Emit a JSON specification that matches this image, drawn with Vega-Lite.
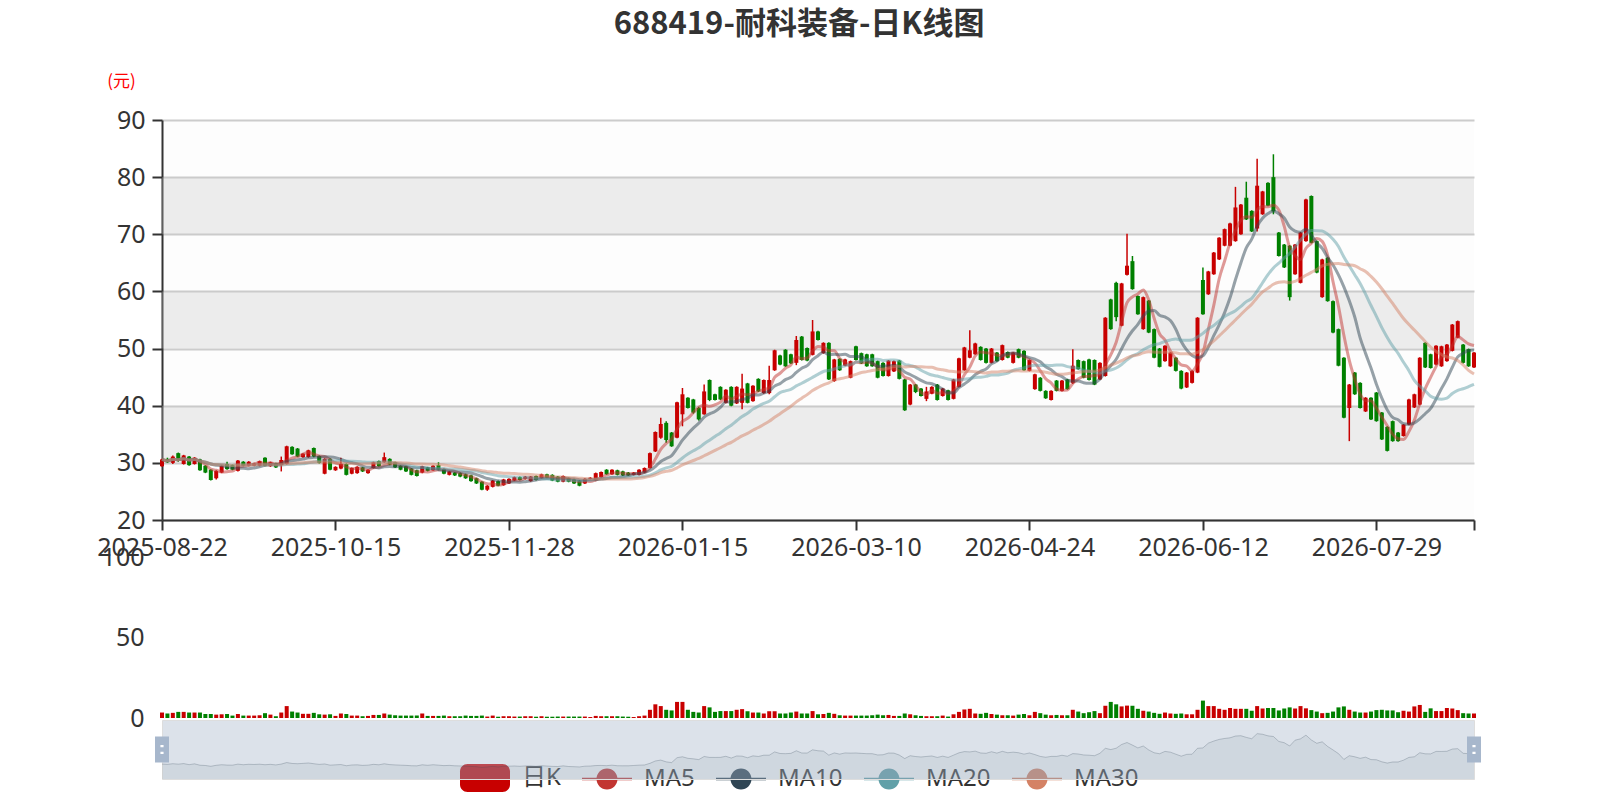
{
  "$schema": "https://vega.github.io/schema/vega-lite/v6.json",
  "background": "white",
  "padding": {"left": 96, "top": 9, "right": 10, "bottom": 5},
  "autosize": "pad",
  "title": {
    "text": "688419-耐科装备-日K线图",
    "font": "Noto Sans CJK SC",
    "fontSize": 31,
    "fontWeight": "bold",
    "color": "#333333",
    "anchor": "middle",
    "dx": 10,
    "offset": 31
  },
  "data": {
    "values": [
      {"date": "2025-08-22", "open": 29.4, "close": 30.6, "high": 30.7, "low": 29.3, "vol": 3.4},
      {"date": "2025-08-25", "open": 30.7, "close": 30.1, "high": 30.9, "low": 30.0, "vol": 2.8},
      {"date": "2025-08-26", "open": 30.0, "close": 31.1, "high": 31.3, "low": 29.8, "vol": 3.2},
      {"date": "2025-08-27", "open": 31.7, "close": 30.4, "high": 31.8, "low": 30.2, "vol": 3.8},
      {"date": "2025-08-28", "open": 29.8, "close": 31.3, "high": 31.4, "low": 29.7, "vol": 3.8},
      {"date": "2025-08-29", "open": 31.1, "close": 29.6, "high": 31.2, "low": 29.5, "vol": 3.4},
      {"date": "2025-09-01", "open": 29.8, "close": 30.9, "high": 31.0, "low": 29.7, "vol": 3.4},
      {"date": "2025-09-02", "open": 30.6, "close": 28.7, "high": 30.7, "low": 28.6, "vol": 3.4},
      {"date": "2025-09-03", "open": 29.5, "close": 28.3, "high": 29.6, "low": 28.2, "vol": 2.5},
      {"date": "2025-09-04", "open": 28.8, "close": 27.0, "high": 28.9, "low": 26.9, "vol": 2.5},
      {"date": "2025-09-05", "open": 27.3, "close": 28.6, "high": 28.7, "low": 27.1, "vol": 2.1},
      {"date": "2025-09-08", "open": 28.3, "close": 29.5, "high": 29.6, "low": 28.2, "vol": 2.3},
      {"date": "2025-09-09", "open": 29.8, "close": 28.9, "high": 30.2, "low": 28.8, "vol": 2.5},
      {"date": "2025-09-10", "open": 29.6, "close": 28.8, "high": 29.7, "low": 28.7, "vol": 1.5},
      {"date": "2025-09-11", "open": 28.6, "close": 30.4, "high": 30.5, "low": 28.5, "vol": 2.5},
      {"date": "2025-09-12", "open": 30.2, "close": 29.5, "high": 30.3, "low": 29.4, "vol": 1.5},
      {"date": "2025-09-15", "open": 29.5, "close": 30.2, "high": 30.3, "low": 29.4, "vol": 1.5},
      {"date": "2025-09-16", "open": 29.5, "close": 29.9, "high": 30.0, "low": 29.4, "vol": 1.5},
      {"date": "2025-09-17", "open": 29.5, "close": 30.3, "high": 30.4, "low": 29.4, "vol": 1.7},
      {"date": "2025-09-18", "open": 30.9, "close": 29.5, "high": 31.0, "low": 29.4, "vol": 3.0},
      {"date": "2025-09-19", "open": 29.4, "close": 30.1, "high": 30.2, "low": 29.3, "vol": 2.1},
      {"date": "2025-09-22", "open": 29.9, "close": 29.2, "high": 30.0, "low": 29.1, "vol": 1.1},
      {"date": "2025-09-23", "open": 29.6, "close": 30.5, "high": 31.1, "low": 28.5, "vol": 3.4},
      {"date": "2025-09-24", "open": 29.8, "close": 32.9, "high": 33.0, "low": 29.7, "vol": 7.4},
      {"date": "2025-09-25", "open": 32.8, "close": 31.5, "high": 32.9, "low": 31.4, "vol": 4.0},
      {"date": "2025-09-26", "open": 32.5, "close": 31.1, "high": 32.6, "low": 31.0, "vol": 3.4},
      {"date": "2025-09-29", "open": 31.0, "close": 31.6, "high": 31.7, "low": 30.9, "vol": 2.6},
      {"date": "2025-09-30", "open": 31.0, "close": 32.2, "high": 32.3, "low": 30.9, "vol": 2.6},
      {"date": "2025-10-09", "open": 32.6, "close": 31.1, "high": 32.7, "low": 31.0, "vol": 3.2},
      {"date": "2025-10-10", "open": 31.2, "close": 30.0, "high": 31.3, "low": 29.9, "vol": 2.3},
      {"date": "2025-10-13", "open": 28.1, "close": 30.7, "high": 30.8, "low": 28.0, "vol": 2.1},
      {"date": "2025-10-14", "open": 30.7, "close": 28.8, "high": 30.8, "low": 28.7, "vol": 2.3},
      {"date": "2025-10-15", "open": 28.7, "close": 29.3, "high": 29.4, "low": 28.6, "vol": 1.3},
      {"date": "2025-10-16", "open": 29.0, "close": 29.8, "high": 30.9, "low": 28.9, "vol": 2.8},
      {"date": "2025-10-17", "open": 29.8, "close": 27.9, "high": 29.9, "low": 27.8, "vol": 2.5},
      {"date": "2025-10-20", "open": 28.1, "close": 29.1, "high": 29.2, "low": 28.0, "vol": 1.5},
      {"date": "2025-10-21", "open": 28.2, "close": 29.3, "high": 29.4, "low": 28.1, "vol": 1.5},
      {"date": "2025-10-22", "open": 29.2, "close": 28.5, "high": 29.3, "low": 28.4, "vol": 1.1},
      {"date": "2025-10-23", "open": 28.2, "close": 28.8, "high": 28.9, "low": 28.1, "vol": 1.3},
      {"date": "2025-10-24", "open": 29.1, "close": 30.1, "high": 30.2, "low": 29.0, "vol": 1.9},
      {"date": "2025-10-27", "open": 30.3, "close": 29.4, "high": 30.4, "low": 29.3, "vol": 1.9},
      {"date": "2025-10-28", "open": 30.1, "close": 31.0, "high": 31.8, "low": 30.0, "vol": 2.8},
      {"date": "2025-10-29", "open": 30.7, "close": 29.7, "high": 30.8, "low": 29.6, "vol": 2.1},
      {"date": "2025-10-30", "open": 30.1, "close": 29.2, "high": 30.2, "low": 29.1, "vol": 1.7},
      {"date": "2025-10-31", "open": 29.5, "close": 28.8, "high": 29.6, "low": 28.7, "vol": 1.5},
      {"date": "2025-11-03", "open": 29.4, "close": 28.5, "high": 29.5, "low": 28.4, "vol": 1.5},
      {"date": "2025-11-04", "open": 29.0, "close": 27.9, "high": 29.1, "low": 27.8, "vol": 1.5},
      {"date": "2025-11-05", "open": 28.7, "close": 27.7, "high": 28.8, "low": 27.6, "vol": 1.5},
      {"date": "2025-11-06", "open": 28.3, "close": 29.4, "high": 29.5, "low": 28.2, "vol": 2.8},
      {"date": "2025-11-07", "open": 29.2, "close": 28.6, "high": 29.3, "low": 28.5, "vol": 1.3},
      {"date": "2025-11-10", "open": 28.7, "close": 29.5, "high": 29.6, "low": 28.6, "vol": 1.3},
      {"date": "2025-11-11", "open": 29.6, "close": 28.8, "high": 30.1, "low": 28.7, "vol": 1.3},
      {"date": "2025-11-12", "open": 28.9, "close": 28.1, "high": 29.0, "low": 28.0, "vol": 1.5},
      {"date": "2025-11-13", "open": 27.9, "close": 28.5, "high": 28.6, "low": 27.8, "vol": 1.1},
      {"date": "2025-11-14", "open": 28.3, "close": 27.8, "high": 28.4, "low": 27.7, "vol": 1.1},
      {"date": "2025-11-17", "open": 28.2, "close": 27.6, "high": 28.3, "low": 27.5, "vol": 1.1},
      {"date": "2025-11-18", "open": 28.0, "close": 27.3, "high": 28.1, "low": 27.2, "vol": 1.5},
      {"date": "2025-11-19", "open": 27.8, "close": 26.8, "high": 27.9, "low": 26.7, "vol": 1.3},
      {"date": "2025-11-20", "open": 27.3, "close": 26.4, "high": 27.4, "low": 26.3, "vol": 1.3},
      {"date": "2025-11-21", "open": 26.7, "close": 25.3, "high": 26.8, "low": 25.2, "vol": 1.5},
      {"date": "2025-11-24", "open": 25.3, "close": 26.0, "high": 26.1, "low": 25.1, "vol": 0.9},
      {"date": "2025-11-25", "open": 25.8, "close": 26.9, "high": 27.0, "low": 25.7, "vol": 1.5},
      {"date": "2025-11-26", "open": 26.8, "close": 26.0, "high": 26.9, "low": 25.9, "vol": 0.8},
      {"date": "2025-11-27", "open": 26.1, "close": 27.1, "high": 27.2, "low": 26.0, "vol": 1.1},
      {"date": "2025-11-28", "open": 26.4, "close": 27.2, "high": 27.3, "low": 26.3, "vol": 1.1},
      {"date": "2025-12-01", "open": 26.9, "close": 27.5, "high": 27.6, "low": 26.8, "vol": 0.9},
      {"date": "2025-12-02", "open": 27.5, "close": 27.0, "high": 27.6, "low": 26.9, "vol": 0.9},
      {"date": "2025-12-03", "open": 27.2, "close": 27.6, "high": 27.7, "low": 27.1, "vol": 1.1},
      {"date": "2025-12-04", "open": 26.8, "close": 27.6, "high": 27.7, "low": 26.7, "vol": 1.1},
      {"date": "2025-12-05", "open": 27.7, "close": 27.0, "high": 27.8, "low": 26.9, "vol": 0.8},
      {"date": "2025-12-08", "open": 27.3, "close": 28.0, "high": 28.1, "low": 27.2, "vol": 1.1},
      {"date": "2025-12-09", "open": 28.0, "close": 27.4, "high": 28.1, "low": 27.3, "vol": 0.8},
      {"date": "2025-12-10", "open": 27.9, "close": 26.9, "high": 28.0, "low": 26.8, "vol": 0.8},
      {"date": "2025-12-11", "open": 27.6, "close": 26.7, "high": 27.7, "low": 26.6, "vol": 0.9},
      {"date": "2025-12-12", "open": 26.7, "close": 27.7, "high": 27.8, "low": 26.6, "vol": 0.9},
      {"date": "2025-12-15", "open": 27.3, "close": 26.7, "high": 27.4, "low": 26.6, "vol": 0.9},
      {"date": "2025-12-16", "open": 27.1, "close": 26.4, "high": 27.2, "low": 26.3, "vol": 0.9},
      {"date": "2025-12-17", "open": 26.9, "close": 26.0, "high": 27.0, "low": 25.9, "vol": 0.9},
      {"date": "2025-12-18", "open": 26.4, "close": 27.2, "high": 27.3, "low": 26.3, "vol": 0.9},
      {"date": "2025-12-19", "open": 27.2, "close": 27.4, "high": 27.5, "low": 27.1, "vol": 0.6},
      {"date": "2025-12-22", "open": 26.9, "close": 28.2, "high": 28.3, "low": 26.8, "vol": 1.3},
      {"date": "2025-12-23", "open": 27.5, "close": 28.4, "high": 28.5, "low": 27.4, "vol": 1.1},
      {"date": "2025-12-24", "open": 28.8, "close": 28.0, "high": 28.9, "low": 27.9, "vol": 1.1},
      {"date": "2025-12-25", "open": 28.0, "close": 28.8, "high": 28.9, "low": 27.9, "vol": 1.1},
      {"date": "2025-12-26", "open": 28.7, "close": 27.9, "high": 28.8, "low": 27.8, "vol": 1.1},
      {"date": "2025-12-29", "open": 28.5, "close": 27.8, "high": 28.6, "low": 27.7, "vol": 0.9},
      {"date": "2025-12-30", "open": 28.3, "close": 27.8, "high": 28.4, "low": 27.7, "vol": 0.8},
      {"date": "2025-12-31", "open": 27.9, "close": 28.3, "high": 28.4, "low": 27.8, "vol": 0.6},
      {"date": "2026-01-05", "open": 27.9, "close": 28.8, "high": 28.9, "low": 27.8, "vol": 1.1},
      {"date": "2026-01-06", "open": 28.3, "close": 29.1, "high": 29.2, "low": 28.2, "vol": 1.5},
      {"date": "2026-01-07", "open": 29.1, "close": 31.7, "high": 31.8, "low": 29.0, "vol": 5.1},
      {"date": "2026-01-08", "open": 32.0, "close": 35.4, "high": 35.5, "low": 31.9, "vol": 8.5},
      {"date": "2026-01-09", "open": 34.4, "close": 36.8, "high": 37.9, "low": 34.2, "vol": 7.4},
      {"date": "2026-01-12", "open": 37.0, "close": 34.0, "high": 37.3, "low": 33.5, "vol": 5.1},
      {"date": "2026-01-13", "open": 35.3, "close": 32.9, "high": 35.4, "low": 32.8, "vol": 4.7},
      {"date": "2026-01-14", "open": 34.4, "close": 40.6, "high": 40.7, "low": 34.3, "vol": 10.0},
      {"date": "2026-01-15", "open": 38.5, "close": 42.0, "high": 43.1, "low": 36.4, "vol": 10.0},
      {"date": "2026-01-16", "open": 41.4, "close": 39.6, "high": 41.5, "low": 39.5, "vol": 5.1},
      {"date": "2026-01-19", "open": 41.1, "close": 38.8, "high": 41.2, "low": 38.6, "vol": 3.8},
      {"date": "2026-01-20", "open": 39.6, "close": 37.6, "high": 39.8, "low": 37.4, "vol": 3.4},
      {"date": "2026-01-21", "open": 38.5, "close": 42.5, "high": 43.7, "low": 38.4, "vol": 7.4},
      {"date": "2026-01-22", "open": 44.5, "close": 41.0, "high": 44.6, "low": 40.8, "vol": 6.6},
      {"date": "2026-01-23", "open": 42.0, "close": 41.0, "high": 42.1, "low": 40.9, "vol": 3.8},
      {"date": "2026-01-26", "open": 43.3, "close": 41.1, "high": 43.4, "low": 41.0, "vol": 4.3},
      {"date": "2026-01-27", "open": 40.5, "close": 42.8, "high": 42.9, "low": 40.4, "vol": 4.3},
      {"date": "2026-01-28", "open": 43.3, "close": 40.0, "high": 43.4, "low": 39.9, "vol": 4.3},
      {"date": "2026-01-29", "open": 40.4, "close": 43.3, "high": 43.4, "low": 40.3, "vol": 5.1},
      {"date": "2026-01-30", "open": 40.5, "close": 43.0, "high": 45.6, "low": 39.4, "vol": 5.5},
      {"date": "2026-02-02", "open": 43.9, "close": 40.5, "high": 44.0, "low": 40.4, "vol": 4.2},
      {"date": "2026-02-03", "open": 40.8, "close": 43.5, "high": 43.6, "low": 40.7, "vol": 3.4},
      {"date": "2026-02-04", "open": 44.7, "close": 42.5, "high": 44.8, "low": 42.4, "vol": 3.4},
      {"date": "2026-02-05", "open": 42.2, "close": 44.5, "high": 44.6, "low": 42.1, "vol": 2.8},
      {"date": "2026-02-06", "open": 42.2, "close": 44.5, "high": 47.0, "low": 42.0, "vol": 4.2},
      {"date": "2026-02-09", "open": 46.2, "close": 49.7, "high": 49.8, "low": 46.1, "vol": 4.2},
      {"date": "2026-02-10", "open": 48.8, "close": 47.2, "high": 48.9, "low": 47.1, "vol": 2.8},
      {"date": "2026-02-11", "open": 49.8, "close": 46.9, "high": 49.9, "low": 46.8, "vol": 2.8},
      {"date": "2026-02-12", "open": 49.0, "close": 47.4, "high": 49.1, "low": 47.3, "vol": 3.4},
      {"date": "2026-02-13", "open": 47.5, "close": 51.5, "high": 52.2, "low": 47.1, "vol": 4.0},
      {"date": "2026-02-24", "open": 52.1, "close": 48.0, "high": 52.2, "low": 47.9, "vol": 2.8},
      {"date": "2026-02-25", "open": 50.1, "close": 47.9, "high": 50.2, "low": 47.8, "vol": 2.8},
      {"date": "2026-02-26", "open": 48.9, "close": 53.0, "high": 55.0, "low": 48.8, "vol": 4.3},
      {"date": "2026-02-27", "open": 53.0, "close": 51.5, "high": 53.1, "low": 51.4, "vol": 2.3},
      {"date": "2026-03-02", "open": 49.2, "close": 51.0, "high": 51.1, "low": 49.1, "vol": 2.5},
      {"date": "2026-03-03", "open": 51.0, "close": 44.6, "high": 51.1, "low": 44.5, "vol": 3.2},
      {"date": "2026-03-04", "open": 44.3, "close": 48.1, "high": 48.2, "low": 44.2, "vol": 2.6},
      {"date": "2026-03-05", "open": 48.2, "close": 46.2, "high": 48.3, "low": 46.1, "vol": 1.7},
      {"date": "2026-03-06", "open": 47.0, "close": 48.1, "high": 48.2, "low": 46.9, "vol": 1.5},
      {"date": "2026-03-09", "open": 44.9, "close": 47.8, "high": 47.9, "low": 44.8, "vol": 1.5},
      {"date": "2026-03-10", "open": 50.4, "close": 48.0, "high": 50.5, "low": 47.9, "vol": 1.5},
      {"date": "2026-03-11", "open": 49.2, "close": 47.4, "high": 49.3, "low": 47.3, "vol": 1.5},
      {"date": "2026-03-12", "open": 49.0, "close": 46.9, "high": 49.1, "low": 46.8, "vol": 1.5},
      {"date": "2026-03-13", "open": 49.0, "close": 46.9, "high": 49.1, "low": 46.8, "vol": 1.7},
      {"date": "2026-03-16", "open": 47.8, "close": 44.9, "high": 47.9, "low": 44.8, "vol": 2.1},
      {"date": "2026-03-17", "open": 47.5, "close": 45.2, "high": 47.6, "low": 45.1, "vol": 1.7},
      {"date": "2026-03-18", "open": 45.2, "close": 47.9, "high": 48.0, "low": 45.1, "vol": 1.9},
      {"date": "2026-03-19", "open": 46.0, "close": 47.8, "high": 47.9, "low": 45.9, "vol": 1.3},
      {"date": "2026-03-20", "open": 47.9, "close": 44.7, "high": 48.0, "low": 44.6, "vol": 1.3},
      {"date": "2026-03-23", "open": 44.6, "close": 39.2, "high": 44.7, "low": 39.1, "vol": 2.8},
      {"date": "2026-03-24", "open": 40.2, "close": 43.7, "high": 43.8, "low": 40.1, "vol": 2.3},
      {"date": "2026-03-25", "open": 43.7, "close": 42.4, "high": 43.8, "low": 42.2, "vol": 1.7},
      {"date": "2026-03-26", "open": 43.0, "close": 41.7, "high": 43.1, "low": 41.6, "vol": 1.3},
      {"date": "2026-03-27", "open": 41.2, "close": 42.5, "high": 43.3, "low": 40.8, "vol": 1.1},
      {"date": "2026-03-30", "open": 42.1, "close": 43.3, "high": 43.4, "low": 42.0, "vol": 1.1},
      {"date": "2026-03-31", "open": 43.7, "close": 41.0, "high": 43.8, "low": 40.9, "vol": 1.1},
      {"date": "2026-04-01", "open": 41.7, "close": 43.0, "high": 43.1, "low": 41.6, "vol": 1.5},
      {"date": "2026-04-02", "open": 42.7, "close": 41.0, "high": 42.8, "low": 40.9, "vol": 0.9},
      {"date": "2026-04-03", "open": 41.2, "close": 44.6, "high": 44.7, "low": 41.1, "vol": 2.3},
      {"date": "2026-04-07", "open": 43.3, "close": 48.3, "high": 48.4, "low": 43.2, "vol": 3.8},
      {"date": "2026-04-08", "open": 46.2, "close": 50.2, "high": 50.3, "low": 46.1, "vol": 5.3},
      {"date": "2026-04-09", "open": 48.4, "close": 49.7, "high": 53.2, "low": 48.3, "vol": 5.7},
      {"date": "2026-04-10", "open": 49.0, "close": 50.9, "high": 51.0, "low": 48.9, "vol": 2.8},
      {"date": "2026-04-13", "open": 50.3, "close": 48.0, "high": 50.4, "low": 47.9, "vol": 2.6},
      {"date": "2026-04-14", "open": 50.0, "close": 47.5, "high": 50.1, "low": 47.4, "vol": 3.2},
      {"date": "2026-04-15", "open": 47.5, "close": 50.0, "high": 50.1, "low": 47.4, "vol": 2.5},
      {"date": "2026-04-16", "open": 49.3, "close": 47.8, "high": 49.4, "low": 47.7, "vol": 2.1},
      {"date": "2026-04-17", "open": 48.0, "close": 50.6, "high": 50.7, "low": 47.9, "vol": 1.7},
      {"date": "2026-04-20", "open": 49.4, "close": 48.4, "high": 49.5, "low": 48.3, "vol": 1.7},
      {"date": "2026-04-21", "open": 47.5, "close": 49.3, "high": 49.4, "low": 47.4, "vol": 1.5},
      {"date": "2026-04-22", "open": 49.9, "close": 48.4, "high": 50.0, "low": 48.3, "vol": 2.1},
      {"date": "2026-04-23", "open": 49.6, "close": 46.2, "high": 49.7, "low": 46.1, "vol": 2.5},
      {"date": "2026-04-24", "open": 46.1, "close": 48.0, "high": 48.1, "low": 46.0, "vol": 1.7},
      {"date": "2026-04-27", "open": 42.9, "close": 45.5, "high": 45.6, "low": 42.8, "vol": 3.8},
      {"date": "2026-04-28", "open": 44.9, "close": 42.6, "high": 45.0, "low": 42.5, "vol": 3.0},
      {"date": "2026-04-29", "open": 42.6, "close": 41.3, "high": 42.7, "low": 41.2, "vol": 2.1},
      {"date": "2026-04-30", "open": 41.0, "close": 42.6, "high": 42.7, "low": 40.9, "vol": 1.7},
      {"date": "2026-05-06", "open": 44.4, "close": 42.6, "high": 44.5, "low": 42.5, "vol": 1.9},
      {"date": "2026-05-07", "open": 42.6, "close": 44.4, "high": 44.5, "low": 42.5, "vol": 1.7},
      {"date": "2026-05-08", "open": 44.6, "close": 42.9, "high": 44.7, "low": 42.8, "vol": 1.7},
      {"date": "2026-05-11", "open": 44.0, "close": 47.0, "high": 49.9, "low": 43.8, "vol": 5.1},
      {"date": "2026-05-12", "open": 48.0, "close": 46.4, "high": 48.1, "low": 46.3, "vol": 4.0},
      {"date": "2026-05-13", "open": 47.8, "close": 44.9, "high": 47.9, "low": 44.8, "vol": 3.0},
      {"date": "2026-05-14", "open": 48.1, "close": 44.5, "high": 48.2, "low": 44.4, "vol": 3.6},
      {"date": "2026-05-15", "open": 48.0, "close": 43.7, "high": 48.1, "low": 43.6, "vol": 4.3},
      {"date": "2026-05-18", "open": 44.6, "close": 47.5, "high": 47.6, "low": 44.5, "vol": 3.0},
      {"date": "2026-05-19", "open": 45.2, "close": 55.4, "high": 55.5, "low": 45.1, "vol": 7.6},
      {"date": "2026-05-20", "open": 58.6, "close": 53.4, "high": 58.7, "low": 53.3, "vol": 10.0},
      {"date": "2026-05-21", "open": 61.5, "close": 55.5, "high": 61.7, "low": 54.8, "vol": 8.5},
      {"date": "2026-05-22", "open": 54.0, "close": 61.4, "high": 61.5, "low": 53.9, "vol": 7.2},
      {"date": "2026-05-25", "open": 62.9, "close": 64.5, "high": 70.1, "low": 62.8, "vol": 7.7},
      {"date": "2026-05-26", "open": 65.3, "close": 60.4, "high": 66.2, "low": 60.3, "vol": 7.6},
      {"date": "2026-05-27", "open": 59.2, "close": 56.0, "high": 59.3, "low": 55.9, "vol": 5.7},
      {"date": "2026-05-28", "open": 53.4, "close": 59.0, "high": 59.1, "low": 53.3, "vol": 4.5},
      {"date": "2026-05-29", "open": 58.4, "close": 52.8, "high": 58.5, "low": 52.7, "vol": 4.0},
      {"date": "2026-06-01", "open": 53.4, "close": 48.4, "high": 53.5, "low": 48.3, "vol": 3.2},
      {"date": "2026-06-02", "open": 50.0, "close": 46.8, "high": 50.1, "low": 46.7, "vol": 2.6},
      {"date": "2026-06-03", "open": 47.8, "close": 50.5, "high": 50.6, "low": 47.7, "vol": 3.4},
      {"date": "2026-06-04", "open": 46.9, "close": 49.3, "high": 49.4, "low": 46.8, "vol": 2.8},
      {"date": "2026-06-05", "open": 48.4, "close": 46.1, "high": 48.5, "low": 46.0, "vol": 2.6},
      {"date": "2026-06-08", "open": 46.1, "close": 43.0, "high": 46.2, "low": 42.9, "vol": 2.8},
      {"date": "2026-06-09", "open": 43.2, "close": 45.8, "high": 45.9, "low": 43.1, "vol": 2.3},
      {"date": "2026-06-10", "open": 44.0, "close": 46.1, "high": 46.2, "low": 43.9, "vol": 2.3},
      {"date": "2026-06-11", "open": 45.8, "close": 55.4, "high": 55.5, "low": 45.7, "vol": 5.1},
      {"date": "2026-06-12", "open": 62.0, "close": 56.0, "high": 64.2, "low": 55.9, "vol": 10.8},
      {"date": "2026-06-15", "open": 59.5, "close": 63.5, "high": 63.6, "low": 59.4, "vol": 7.4},
      {"date": "2026-06-16", "open": 63.0, "close": 66.8, "high": 66.9, "low": 62.9, "vol": 7.4},
      {"date": "2026-06-17", "open": 65.6, "close": 69.4, "high": 69.5, "low": 65.5, "vol": 5.7},
      {"date": "2026-06-18", "open": 68.0, "close": 70.9, "high": 71.0, "low": 67.9, "vol": 5.1},
      {"date": "2026-06-22", "open": 68.0, "close": 71.9, "high": 72.0, "low": 67.9, "vol": 6.2},
      {"date": "2026-06-23", "open": 68.8, "close": 74.7, "high": 78.3, "low": 68.7, "vol": 5.7},
      {"date": "2026-06-24", "open": 70.0, "close": 75.2, "high": 75.3, "low": 69.9, "vol": 5.7},
      {"date": "2026-06-25", "open": 76.4, "close": 72.6, "high": 79.2, "low": 72.5, "vol": 5.7},
      {"date": "2026-06-26", "open": 74.1, "close": 70.5, "high": 74.2, "low": 70.4, "vol": 4.5},
      {"date": "2026-06-29", "open": 71.0, "close": 78.5, "high": 83.2, "low": 70.5, "vol": 7.4},
      {"date": "2026-06-30", "open": 73.5, "close": 77.5, "high": 77.6, "low": 73.4, "vol": 5.9},
      {"date": "2026-07-01", "open": 79.0, "close": 75.0, "high": 79.1, "low": 74.9, "vol": 6.2},
      {"date": "2026-07-02", "open": 80.0, "close": 74.0, "high": 84.0, "low": 73.5, "vol": 6.2},
      {"date": "2026-07-03", "open": 70.3, "close": 66.2, "high": 70.4, "low": 66.1, "vol": 4.7},
      {"date": "2026-07-06", "open": 68.2, "close": 64.2, "high": 68.3, "low": 64.1, "vol": 5.9},
      {"date": "2026-07-07", "open": 68.0, "close": 59.0, "high": 68.1, "low": 58.4, "vol": 6.6},
      {"date": "2026-07-08", "open": 63.0, "close": 68.2, "high": 68.3, "low": 62.9, "vol": 5.9},
      {"date": "2026-07-09", "open": 61.5, "close": 70.3, "high": 70.4, "low": 61.4, "vol": 7.4},
      {"date": "2026-07-10", "open": 68.8, "close": 76.1, "high": 76.2, "low": 68.7, "vol": 6.0},
      {"date": "2026-07-13", "open": 76.7, "close": 68.5, "high": 76.8, "low": 68.4, "vol": 4.9},
      {"date": "2026-07-14", "open": 68.8, "close": 63.3, "high": 68.9, "low": 63.2, "vol": 4.0},
      {"date": "2026-07-15", "open": 59.0, "close": 65.6, "high": 65.7, "low": 58.9, "vol": 3.0},
      {"date": "2026-07-16", "open": 65.9, "close": 58.3, "high": 66.0, "low": 58.2, "vol": 3.2},
      {"date": "2026-07-17", "open": 58.3, "close": 52.8, "high": 58.4, "low": 52.7, "vol": 4.0},
      {"date": "2026-07-20", "open": 53.4, "close": 47.0, "high": 53.5, "low": 46.9, "vol": 6.6},
      {"date": "2026-07-21", "open": 48.4, "close": 37.9, "high": 48.5, "low": 37.8, "vol": 7.2},
      {"date": "2026-07-22", "open": 39.6, "close": 43.7, "high": 43.8, "low": 33.8, "vol": 5.1},
      {"date": "2026-07-23", "open": 45.8, "close": 42.0, "high": 45.9, "low": 41.9, "vol": 4.0},
      {"date": "2026-07-24", "open": 44.0, "close": 39.6, "high": 44.1, "low": 39.5, "vol": 3.4},
      {"date": "2026-07-27", "open": 39.0, "close": 41.4, "high": 41.5, "low": 38.9, "vol": 3.4},
      {"date": "2026-07-28", "open": 41.4, "close": 37.6, "high": 41.5, "low": 37.5, "vol": 4.0},
      {"date": "2026-07-29", "open": 42.3, "close": 37.3, "high": 42.4, "low": 37.2, "vol": 4.9},
      {"date": "2026-07-30", "open": 38.8, "close": 34.1, "high": 38.9, "low": 34.0, "vol": 5.1},
      {"date": "2026-07-31", "open": 36.3, "close": 32.1, "high": 36.4, "low": 32.0, "vol": 4.7},
      {"date": "2026-08-03", "open": 37.3, "close": 33.8, "high": 37.4, "low": 33.7, "vol": 4.7},
      {"date": "2026-08-04", "open": 35.3, "close": 33.8, "high": 35.4, "low": 33.7, "vol": 3.6},
      {"date": "2026-08-05", "open": 34.7, "close": 36.7, "high": 36.8, "low": 34.6, "vol": 4.5},
      {"date": "2026-08-06", "open": 36.7, "close": 41.1, "high": 41.2, "low": 36.6, "vol": 4.0},
      {"date": "2026-08-07", "open": 39.7, "close": 42.0, "high": 42.1, "low": 39.6, "vol": 7.2},
      {"date": "2026-08-10", "open": 40.2, "close": 48.4, "high": 48.5, "low": 40.1, "vol": 8.1},
      {"date": "2026-08-11", "open": 51.0, "close": 46.7, "high": 51.1, "low": 46.6, "vol": 3.8},
      {"date": "2026-08-12", "open": 49.0, "close": 46.6, "high": 49.1, "low": 46.5, "vol": 6.0},
      {"date": "2026-08-13", "open": 47.2, "close": 50.5, "high": 50.6, "low": 47.1, "vol": 4.3},
      {"date": "2026-08-14", "open": 46.9, "close": 50.4, "high": 50.5, "low": 46.8, "vol": 4.3},
      {"date": "2026-08-17", "open": 47.8, "close": 50.7, "high": 50.8, "low": 47.7, "vol": 6.2},
      {"date": "2026-08-18", "open": 49.6, "close": 54.2, "high": 54.3, "low": 49.5, "vol": 5.9},
      {"date": "2026-08-19", "open": 51.9, "close": 54.8, "high": 54.9, "low": 51.8, "vol": 4.9},
      {"date": "2026-08-20", "open": 50.7, "close": 47.5, "high": 50.8, "low": 47.4, "vol": 3.0},
      {"date": "2026-08-21", "open": 49.9, "close": 46.9, "high": 50.0, "low": 46.8, "vol": 2.8},
      {"date": "2026-08-24", "open": 46.7, "close": 49.3, "high": 49.4, "low": 46.6, "vol": 2.8}
    ]
  },
  "transform": [
    {"window": [{"op": "mean", "field": "close", "as": "MA5"}], "frame": [-4, 0], "sort": [{"field": "date"}]},
    {"window": [{"op": "mean", "field": "close", "as": "MA10"}], "frame": [-9, 0], "sort": [{"field": "date"}]},
    {"window": [{"op": "mean", "field": "close", "as": "MA20"}], "frame": [-19, 0], "sort": [{"field": "date"}]},
    {"window": [{"op": "mean", "field": "close", "as": "MA30"}], "frame": [-29, 0], "sort": [{"field": "date"}]}
  ],
  "bounds": "flush",
  "spacing": 37,
  "resolve": {"scale": {"color": "independent", "x": "independent", "y": "independent"}, "legend": {"color": "independent"}},
  "vconcat": [
    {
      "width": 1312,
      "height": 400,
      "view": {"fill": "#fdfdfd", "stroke": null},
      "layer": [
        {
          "data": {"values": [{"lo": 30, "hi": 40}, {"lo": 50, "hi": 60}, {"lo": 70, "hi": 80}]},
          "mark": {"type": "rect", "color": "#c8c8c8", "opacity": 0.3},
          "encoding": {
            "y": {
              "field": "lo",
              "type": "quantitative",
              "title": "(元)",
              "scale": {"domain": [20, 90], "nice": false, "zero": false},
              "axis": {
                "values": [20, 30, 40, 50, 60, 70, 80, 90],
                "titleAngle": 0,
                "titleX": -41,
                "titleY": -39,
                "titleAlign": "center",
                "titleBaseline": "middle",
                "titleColor": "#ff0000",
                "titleFont": "Noto Sans CJK SC",
                "titleFontSize": 17,
                "titleFontWeight": "normal",
                "labelFont": "Noto Sans",
                "labelFontSize": 25,
                "labelColor": "#333333",
                "labelPadding": 7,
                "domainColor": "#333333",
                "domainWidth": 2,
                "tickColor": "#333333",
                "tickWidth": 2,
                "tickSize": 10,
                "grid": true,
                "gridColor": "#cccccc",
                "gridWidth": 2
              }
            },
            "y2": {"field": "hi"}
          }
        },
        {
          "mark": {"type": "rule", "strokeWidth": 1.5},
          "encoding": {
            "x": {
              "field": "date",
              "type": "ordinal",
              "title": null,
              "scale": {"type": "point", "padding": 0},
              "axis": {
                "values": ["2025-08-22", "2025-10-15", "2025-11-28", "2026-01-15", "2026-03-10", "2026-04-24", "2026-06-12", "2026-07-29", "2026-08-24"],
                "labelExpr": "datum.value == '2026-08-24' ? '' : datum.value",
                "labelAngle": 0,
                "labelFlush": false,
                "labelOverlap": false,
                "labelFont": "Noto Sans",
                "labelFontSize": 25,
                "labelColor": "#333333",
                "labelPadding": 5,
                "domainColor": "#333333",
                "domainWidth": 2,
                "tickColor": "#333333",
                "tickWidth": 2,
                "tickSize": 10,
                "grid": false
              }
            },
            "y": {"field": "low", "type": "quantitative", "title": "(元)"},
            "y2": {"field": "high"},
            "color": {"condition": {"test": "datum.close >= datum.open", "value": "#c80000"}, "value": "#008000"}
          }
        },
        {
          "mark": {"type": "bar", "size": 4},
          "encoding": {
            "x": {"field": "date", "type": "ordinal", "title": null, "scale": {"type": "point", "padding": 0}},
            "y": {"field": "open", "type": "quantitative", "title": "(元)"},
            "y2": {"field": "close"},
            "color": {"condition": {"test": "datum.close >= datum.open", "value": "#c80000"}, "value": "#008000"}
          }
        },
        {
          "transform": [{"fold": ["MA5", "MA10", "MA20", "MA30"]}],
          "mark": {"type": "line", "strokeWidth": 3, "opacity": 0.5, "interpolate": "monotone"},
          "encoding": {
            "x": {"field": "date", "type": "ordinal", "title": null, "scale": {"type": "point", "padding": 0}},
            "y": {"field": "value", "type": "quantitative", "title": "(元)"},
            "color": {
              "field": "key",
              "type": "nominal",
              "scale": {
                "domain": ["日K", "MA5", "MA10", "MA20", "MA30"],
                "range": ["#c80000", "#c23531", "#2f4554", "#61a0a8", "#d48265"]
              },
              "legend": {
                "orient": "none",
                "legendX": 298,
                "legendY": 633,
                "direction": "horizontal",
                "title": null,
                "padding": 0,
                "symbolSize": 2500,
                "symbolOpacity": 1,
                "symbolStrokeWidth": 0,
                "labelFont": "Noto Sans, Noto Sans CJK SC",
                "labelFontSize": 24,
                "labelColor": "#333333",
                "labelOffset": 12,
                "columnPadding": 21,
                "encode": {
                  "symbols": {
                    "update": {
                      "shape": {"signal": "datum.value === '日K' ? 'M-0.7,-0.56H0.7A0.3,0.3 0 0 1 1,-0.26V0.26A0.3,0.3 0 0 1 0.7,0.56H-0.7A0.3,0.3 0 0 1 -1,0.26V-0.26A0.3,0.3 0 0 1 -0.7,-0.56Z' : 'M-1,-0.05H1V0.05H-1Z M0.42,0A0.42,0.42 0 1 1 -0.42,0A0.42,0.42 0 1 1 0.42,0Z'"},
                      "fill": {"signal": "datum.value === '日K' ? '#c80000' : datum.value === 'MA5' ? '#c23531' : datum.value === 'MA10' ? '#2f4554' : datum.value === 'MA20' ? '#61a0a8' : '#d48265'"},
                      "strokeWidth": {"value": 0},
                      "opacity": {"value": 1}
                    }
                  }
                }
              }
            }
          }
        }
      ]
    },
    {
      "bounds": "flush",
      "spacing": 2,
      "vconcat": [
        {
          "width": 1312,
          "height": 161,
          "mark": {"type": "bar", "size": 4},
          "encoding": {
            "x": {"field": "date", "type": "ordinal", "scale": {"type": "point", "padding": 0}, "axis": null},
            "y": {
              "field": "vol",
              "type": "quantitative",
              "scale": {"domain": [0, 100], "nice": false},
              "axis": {
                "values": [0, 50, 100],
                "title": null,
                "domain": false,
                "ticks": false,
                "grid": false,
                "labelFont": "Noto Sans",
                "labelFontSize": 25,
                "labelColor": "#333333",
                "labelPadding": 18
              }
            },
            "color": {"condition": {"test": "datum.close >= datum.open", "value": "#c80000"}, "value": "#008000"}
          }
        },
        {
          "width": 1312,
          "height": 59,
          "view": {"fill": "#a7b7cb", "fillOpacity": 0.4, "stroke": "#dddddd"},
          "layer": [
            {
              "mark": {"type": "area", "color": "#2f4554", "opacity": 0.07, "clip": true},
              "encoding": {
                "x": {"field": "date", "type": "ordinal", "scale": {"type": "point", "padding": 0}, "axis": null},
                "y": {"field": "close", "type": "quantitative", "scale": {"domain": [7, 100], "nice": false, "zero": false}, "axis": null}
              }
            },
            {
              "mark": {"type": "line", "color": "#2f4554", "opacity": 0.25, "strokeWidth": 1, "clip": true},
              "encoding": {
                "x": {"field": "date", "type": "ordinal", "scale": {"type": "point", "padding": 0}, "axis": null},
                "y": {"field": "close", "type": "quantitative", "axis": null}
              }
            },
            {
              "data": {"values": [{"date": "2025-08-22"}, {"date": "2026-08-24"}]},
              "mark": {"type": "point", "filled": true, "opacity": 1, "color": "#a7b7cc", "size": 676, "shape": "M-0.54,-1H0.54V1H-0.54Z"},
              "encoding": {
                "x": {"field": "date", "type": "ordinal", "scale": {"type": "point", "padding": 0}, "axis": null},
                "y": {"datum": 53.5, "type": "quantitative", "axis": null}
              }
            },
            {
              "data": {"values": [{"date": "2025-08-22"}, {"date": "2026-08-24"}]},
              "mark": {"type": "point", "filled": true, "opacity": 1, "color": "#ffffff", "size": 676, "shape": "M-0.12,-0.35H0.12V-0.17H-0.12Z M-0.12,0.17H0.12V0.35H-0.12Z"},
              "encoding": {
                "x": {"field": "date", "type": "ordinal", "scale": {"type": "point", "padding": 0}, "axis": null},
                "y": {"datum": 53.5, "type": "quantitative", "axis": null}
              }
            }
          ]
        }
      ]
    }
  ],
  "config": {
    "view": {"stroke": null},
    "font": "Noto Sans"
  }
}
